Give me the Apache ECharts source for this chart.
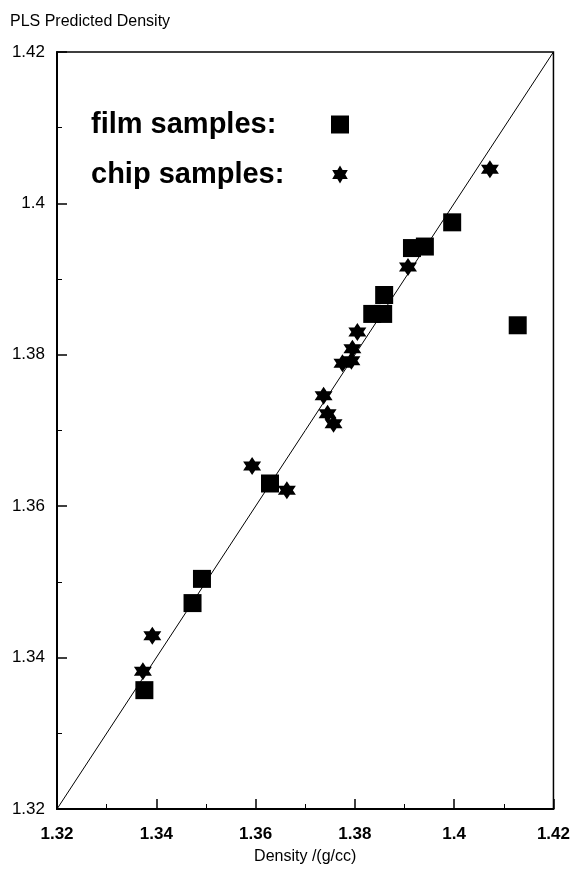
<!DOCTYPE html>
<html lang="en">

<head>
    <meta charset="UTF-8">
    <title>PLS Predicted Density</title>
    <script src="https://cdn.jsdelivr.net/npm/echarts@6/dist/echarts.min.js"></script>
    <style>
        body {
            margin: 0;
            background: #fff;
        }

        #root {
            width: 573px;
            height: 870px;
        }
    </style>
</head>

<body>

    <div id="root"></div>
    <script>

        // film samples: measured density vs PLS predicted
        var filmDensity = [1.3376, 1.3473, 1.3492, 1.3629, 1.3835, 1.3857, 1.3859, 1.3915, 1.3941, 1.3996, 1.4128];
        var filmPredicted = [1.3357, 1.3472, 1.3504, 1.3630, 1.3854, 1.3854, 1.3879, 1.3941, 1.3943, 1.3975, 1.3839];

        // chip samples
        var chipDensity = [1.3373, 1.3392, 1.3593, 1.3663, 1.3737, 1.3745, 1.3757, 1.3775, 1.3793, 1.3795, 1.3805, 1.3907, 1.4072];
        var chipPredicted = [1.3382, 1.3429, 1.3653, 1.3621, 1.3746, 1.3722, 1.3709, 1.3789, 1.3792, 1.3808, 1.3830, 1.3916, 1.4045];

        // y = x reference line
        var lineEnds = [1.32, 1.42];

        var axisMin = 1.32, axisMax = 1.42, axisStep = 0.02;

        function pairs(xs, ys) {
            return xs.map(function (x, i) { return [x, ys[i]]; });
        }

        // six-pointed star
        var starPath = 'path://M50,0L64.43,25L93.3,25L78.87,50L93.3,75L64.43,75L50,100L35.57,75L6.7,75L21.13,50L6.7,25L35.57,25Z';

        var font = 'Liberation Sans';

        var mychart = echarts.init(document.getElementById('root'));

        mychart.setOption({
            animation: false,
            textStyle: { fontFamily: font },
            title: {
                text: 'PLS Predicted Density',
                left: 10,
                top: 14,
                padding: 0,
                textStyle: { fontSize: 16, fontWeight: 'normal', color: '#000', fontFamily: font }
            },
            grid: {
                left: 57,
                right: 17,
                top: 52,
                bottom: 58,
                show: true,
                borderColor: '#000',
                borderWidth: 1.5
            },
            legend: {
                orient: 'vertical',
                align: 'right',
                left: 86,
                top: 105,
                itemWidth: 18,
                itemHeight: 18,
                itemGap: 21,
                selectedMode: false,
                data: [
                    { name: 'film samples:', icon: 'rect' },
                    { name: 'chip samples:', icon: starPath }
                ],
                formatter: function (name) { return '{a|' + name + '}'; },
                textStyle: {
                    rich: {
                        a: {
                            width: 235,
                            align: 'left',
                            fontSize: 29,
                            fontWeight: 'bold',
                            lineHeight: 30,
                            color: '#000',
                            fontFamily: font
                        }
                    }
                }
            },
            xAxis: {
                type: 'value',
                min: axisMin,
                max: axisMax,
                interval: axisStep,
                name: 'Density /(g/cc)',
                nameLocation: 'middle',
                nameGap: 40,
                nameTextStyle: { fontSize: 16, color: '#000', fontFamily: font },
                axisLine: { lineStyle: { color: '#000', width: 2 } },
                axisTick: { inside: true, length: 10, lineStyle: { color: '#000', width: 1.5 } },
                minorTick: { show: true, splitNumber: 2, length: 5, lineStyle: { color: '#000', width: 1 } },
                axisLabel: { fontSize: 17, fontWeight: 'bold', color: '#000', margin: 17, fontFamily: font },
                splitLine: { show: false }
            },
            yAxis: {
                type: 'value',
                min: axisMin,
                max: axisMax,
                interval: axisStep,
                axisLine: { show: true, lineStyle: { color: '#000', width: 2 } },
                axisTick: { show: true, inside: true, length: 10, lineStyle: { color: '#000', width: 1.5 } },
                minorTick: { show: true, splitNumber: 2, length: 5, lineStyle: { color: '#000', width: 1 } },
                axisLabel: { fontSize: 17, color: '#000', margin: 12, fontFamily: font },
                splitLine: { show: false }
            },
            series: [{
                type: 'line',
                data: pairs(lineEnds, lineEnds),
                symbol: 'none',
                silent: true,
                lineStyle: { color: '#000', width: 1 }
            }, {
                name: 'film samples:',
                type: 'scatter',
                data: pairs(filmDensity, filmPredicted),
                symbol: 'rect',
                symbolSize: 18,
                itemStyle: { color: '#000', opacity: 1 },
                silent: true
            }, {
                name: 'chip samples:',
                type: 'scatter',
                data: pairs(chipDensity, chipPredicted),
                symbol: starPath,
                symbolSize: 18,
                itemStyle: { color: '#000', opacity: 1 },
                silent: true
            }]
        });

    </script>

</body>

</html>
